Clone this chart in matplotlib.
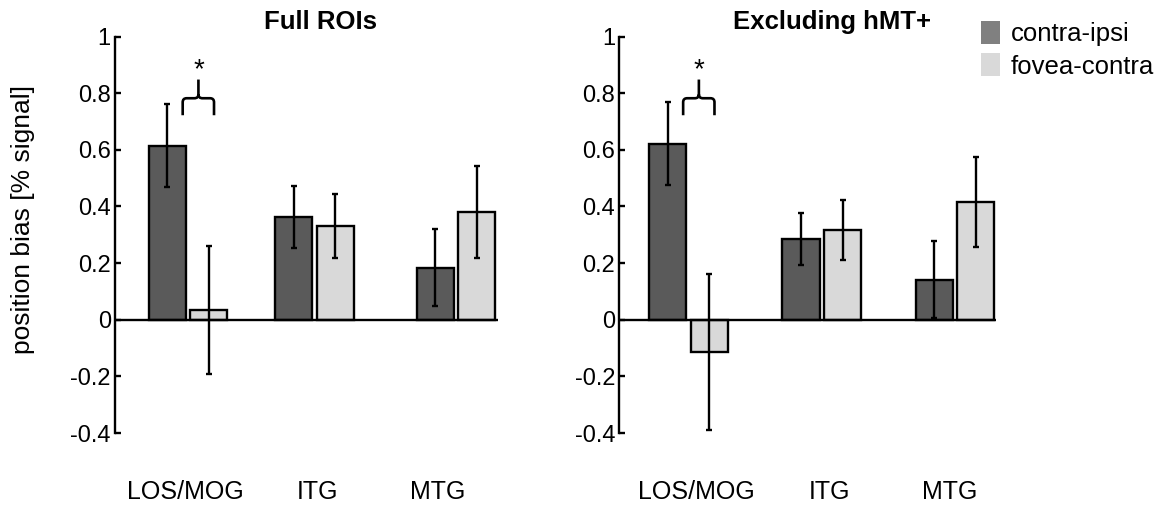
import matplotlib
matplotlib.use("Agg")
import matplotlib.pyplot as plt
from matplotlib.patches import Patch, PathPatch
from matplotlib.path import Path
import numpy as np

plt.rcParams['font.family'] = ['Liberation Sans', 'DejaVu Sans']

# ---- data ----
groups = ['LOS/MOG', 'ITG', 'MTG']
series = ['contra-ipsi', 'fovea-contra']
yticks = [-0.4, -0.2, 0, 0.2, 0.4, 0.6, 0.8, 1]
ytick_labels = ['-0.4', '-0.2', '0', '0.2', '0.4', '0.6', '0.8', '1']

full_contra = [0.615, 0.362, 0.184]
full_contra_err = [0.146, 0.110, 0.135]
full_fovea = [0.035, 0.331, 0.381]
full_fovea_err = [0.227, 0.114, 0.163]

excl_contra = [0.622, 0.285, 0.141]
excl_contra_err = [0.146, 0.091, 0.136]
excl_fovea = [-0.115, 0.318, 0.416]
excl_fovea_err = [0.276, 0.106, 0.160]

titles = ['Full ROIs', 'Excluding hMT+']
ylabel = 'position bias [% signal]'

# ---- style / layout ----
dark = '#5a5a5a'
light = '#d9d9d9'
legend_dark = '#808080'
W, H = 1169, 508
fig = plt.figure(figsize=(W / 100, H / 100), dpi=100)

ax_bottom = (H - 433) / H
ax_height = (433 - 36.5) / H

panels = [
    dict(left=115, right=498, xlim=(-0.548, 2.326), pos=[0, 0.949, 2.01],
         labpos=[-0.022, 0.968, 1.875], title_x=321,
         contra=full_contra, contra_err=full_contra_err,
         fovea=full_fovea, fovea_err=full_fovea_err, title=titles[0]),
    dict(left=619.3, right=996, xlim=(-0.519, 2.307), pos=[0, 1, 2],
         labpos=[0.056, 1.061, 1.961], title_x=832,
         contra=excl_contra, contra_err=excl_contra_err,
         fovea=excl_fovea, fovea_err=excl_fovea_err, title=titles[1]),
]

bw = 0.278
off = 0.156

for i, p in enumerate(panels):
    ax = fig.add_axes([p['left'] / W, ax_bottom, (p['right'] - p['left']) / W, ax_height])
    pos = np.array(p['pos'])
    ax.bar(pos - off, p['contra'], width=bw, color=dark, edgecolor='black', linewidth=1.7, zorder=2)
    ax.bar(pos + off, p['fovea'], width=bw, color=light, edgecolor='black', linewidth=1.7, zorder=2)
    ax.errorbar(pos - off, p['contra'], yerr=p['contra_err'], fmt='none', ecolor='black',
                elinewidth=1.7, capsize=2, capthick=1.7, zorder=3)
    ax.errorbar(pos + off, p['fovea'], yerr=p['fovea_err'], fmt='none', ecolor='black',
                elinewidth=1.7, capsize=2, capthick=1.7, zorder=3)
    ax.axhline(0, color='black', linewidth=1.7, zorder=4)
    ax.set_xlim(*p['xlim'])
    ax.set_ylim(-0.4, 1)
    for s in ['top', 'right', 'bottom']:
        ax.spines[s].set_visible(False)
    ax.spines['left'].set_linewidth(1.7)
    ax.set_yticks(yticks)
    ax.set_yticklabels(ytick_labels)
    ax.tick_params(axis='y', direction='in', length=4, width=1.7, labelsize=17, pad=3)
    ax.set_xticks(p['labpos'])
    ax.set_xticklabels(groups)
    ax.tick_params(axis='x', length=0, labelsize=18, pad=34)
    ax.patch.set_alpha(0)
    fig.text(p['title_x'] / W, 1 - 29 / H, p['title'], ha='center', va='baseline',
             fontsize=18.5, fontweight='bold')

    # significance brace over first group
    xc = pos[0] + 0.078
    x0, x1 = pos[0] - 0.04, pos[0] + 0.195
    yb, ye, yt = 0.782, 0.722, 0.848
    rx, ry = 0.03, 0.014
    verts = [(x0, ye), (x0, yb - ry), (x0, yb), (x0 + rx, yb), (xc - rx, yb), (xc, yb), (xc, yb + ry), (xc, yt),
             (xc, yb + ry), (xc, yb), (xc + rx, yb), (x1 - rx, yb), (x1, yb), (x1, yb - ry), (x1, ye)]
    codes = [Path.MOVETO, Path.LINETO, Path.CURVE3, Path.CURVE3, Path.LINETO, Path.CURVE3, Path.CURVE3, Path.LINETO,
             Path.MOVETO, Path.CURVE3, Path.CURVE3, Path.LINETO, Path.CURVE3, Path.CURVE3, Path.LINETO]
    ax.add_patch(PathPatch(Path(verts, codes), facecolor='none', edgecolor='black', linewidth=1.9,
                           capstyle='butt', clip_on=False))
    ax.text(xc, 0.855, '*', ha='center', va='baseline', fontsize=20)

fig.text(23 / W, 1 - 220 / H, ylabel, rotation=90, ha='center', va='center', fontsize=19)

handles = [Patch(facecolor=legend_dark, edgecolor='none'), Patch(facecolor=light, edgecolor='none')]
fig.legend(handles, series, loc='upper left', bbox_to_anchor=(981 / W, 1 - 21 / H), frameon=False,
           fontsize=18.5, handlelength=0.74, handleheight=1.0, handletextpad=0.42, labelspacing=0.27,
           borderpad=0, borderaxespad=0)

fig.savefig('out.png', dpi=100)
